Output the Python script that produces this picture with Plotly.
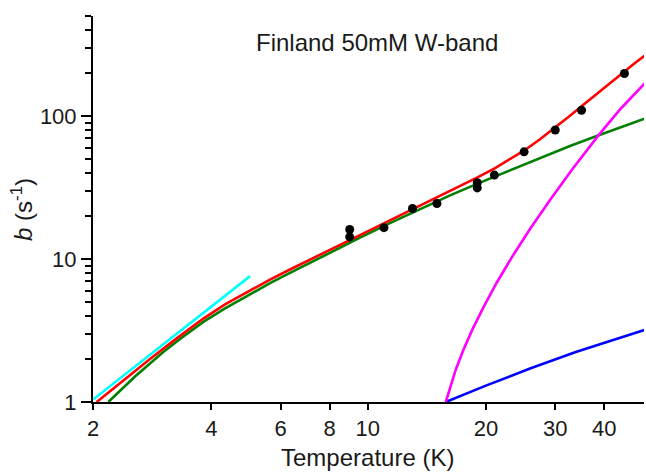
import plotly.graph_objects as go

# ---- data ----
data_T = [9, 9, 11, 13, 15, 19, 19, 21, 25, 30, 35, 45]
data_b = [16.1, 14.3, 16.6, 22.6, 24.5, 34.2, 31.5, 38.7, 56.3, 80, 110, 199]

fit_T = [2.044, 2.343, 2.793, 3.234, 3.817, 4.335, 5.018, 5.641, 6.343, 7.133, 8.112, 9.559,
         11.39, 13.59, 16.20, 18.97, 21.09, 23.15, 25.13, 27.44, 30.32, 32.71, 35.51, 39.00,
         42.58, 45.15, 47.86, 50.77]
fit_b = [1.0, 1.361, 2.0, 2.731, 3.837, 4.817, 6.056, 7.186, 8.456, 9.936, 11.81, 14.73,
         18.64, 23.58, 29.89, 37.15, 43.30, 50.31, 57.98, 69.02, 85.24, 100.8, 121.3, 149.9,
         182.8, 208.0, 235.8, 266.6]

green_T = [2.188, 2.343, 2.558, 2.793, 3.019, 3.330, 3.817, 4.335, 5.018, 5.641, 6.343, 7.133,
           8.160, 9.559, 11.39, 13.59, 16.20, 18.97, 23.15, 27.44, 32.71, 38.10, 43.85, 50.77]
green_b = [1.0, 1.204, 1.509, 1.861, 2.239, 2.762, 3.634, 4.516, 5.704, 6.782, 8.006, 9.436,
           11.38, 14.12, 17.87, 22.46, 27.93, 33.62, 42.13, 51.13, 61.84, 72.31, 83.22, 96.36]

cyan_T = [2.0, 5.02]
cyan_b = [1.04, 7.6]

magenta_T = [15.80, 16.27, 16.76, 17.50, 18.51, 19.74, 21.29, 23.26, 25.88, 29.10,
             33.01, 38.41, 44.07, 50.82]
magenta_b = [1.0, 1.326, 1.689, 2.301, 3.262, 4.650, 6.834, 10.29, 16.22, 25.89,
             41.79, 71.96, 113.2, 171.0]

blue_T = [15.80, 19.98, 25.88, 33.84, 50.77]
blue_b = [1.0, 1.302, 1.714, 2.236, 3.2]

x_ticks = [2, 4, 6, 8, 10, 20, 30, 40]
x_ticktext = ["2", "4", "6", "8", "10", "20", "30", "40"]
y_ticks = [1, 10, 100]
y_ticktext = ["1", "10", "100"]
y_minor = [2, 3, 4, 5, 6, 7, 8, 9, 20, 30, 40, 50, 60, 70, 80, 90, 200, 300, 400, 500]

FONT = "Liberation Sans, Arial, sans-serif"
TXT = "#1a1a1a"
LW = 2.6

fig = go.Figure()
fig.add_trace(go.Scatter(x=green_T, y=green_b, mode="lines", line=dict(color="#008000", width=LW)))
fig.add_trace(go.Scatter(x=blue_T, y=blue_b, mode="lines", line=dict(color="#0000FF", width=LW)))
fig.add_trace(go.Scatter(x=magenta_T, y=magenta_b, mode="lines", line=dict(color="#FF00FF", width=LW)))
fig.add_trace(go.Scatter(x=cyan_T, y=cyan_b, mode="lines", line=dict(color="#00FFFF", width=LW)))
fig.add_trace(go.Scatter(x=fit_T, y=fit_b, mode="lines", line=dict(color="#FF0000", width=LW)))
fig.add_trace(go.Scatter(x=data_T, y=data_b, mode="markers", marker=dict(color="black", size=9)))

fig.update_layout(
    width=646, height=473,
    margin=dict(l=93, r=2, t=16, b=71),
    paper_bgcolor="white", plot_bgcolor="white",
    showlegend=False,
    font=dict(family=FONT, size=22, color=TXT),
)
fig.update_xaxes(
    type="log", range=[0.30103, 1.703],
    tickvals=x_ticks, ticktext=x_ticktext,
    showline=True, linecolor="black", linewidth=2,
    ticks="outside", ticklen=6, tickwidth=2, tickcolor="black",
    showgrid=False, zeroline=False,
    tickfont=dict(family=FONT, size=22, color=TXT),
)
fig.update_yaxes(
    type="log", range=[0, 2.701],
    tickvals=y_ticks, ticktext=y_ticktext,
    showline=True, linecolor="black", linewidth=2,
    ticks="outside", ticklen=10, tickwidth=2, tickcolor="black",
    minor=dict(tickvals=y_minor, ticks="outside", ticklen=6, tickwidth=2, tickcolor="black", showgrid=False),
    showgrid=False, zeroline=False,
    tickfont=dict(family=FONT, size=22, color=TXT),
)

fig.add_annotation(text="Finland 50mM W-band", xref="paper", yref="paper",
                   x=0.515, y=0.9326, xanchor="center", yanchor="middle", showarrow=False,
                   font=dict(family=FONT, size=24, color=TXT))
fig.add_annotation(text="Temperature (K)", xref="paper", yref="paper",
                   x=0.499, y=-0.143, xanchor="center", yanchor="middle", showarrow=False,
                   font=dict(family=FONT, size=24, color=TXT))
fig.add_annotation(text="<i>b</i> (s<sup>-1</sup>)", xref="paper", yref="paper",
                   x=-0.129, y=0.5, xanchor="center", yanchor="middle", showarrow=False,
                   textangle=-90, font=dict(family=FONT, size=24, color=TXT))

fig.write_html("out.html")
